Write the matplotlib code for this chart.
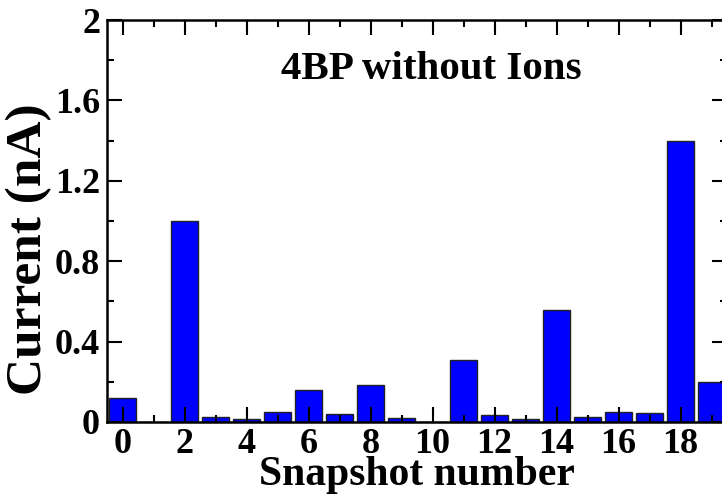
import matplotlib
matplotlib.use("Agg")
import matplotlib.pyplot as plt
from matplotlib.ticker import MultipleLocator, FixedLocator

# Current per snapshot
snapshots = list(range(20))
current_na = [0.12, 0.0, 1.0, 0.025, 0.015, 0.05, 0.16, 0.04, 0.185, 0.02,
              0.0, 0.31, 0.033, 0.015, 0.557, 0.027, 0.05, 0.045, 1.4, 0.2]
x_tick_values = [0, 2, 4, 6, 8, 10, 12, 14, 16, 18]
y_tick_values = [0, 0.4, 0.8, 1.2, 1.6, 2]
y_tick_labels = ["0", "0.4", "0.8", "1.2", "1.6", "2"]

plt.rcParams["font.family"] = ["Liberation Serif", "DejaVu Serif"]
plt.rcParams["font.weight"] = "bold"

fig = plt.figure(figsize=(7.22, 4.96), dpi=100)
ax = fig.add_axes([107 / 722, 74 / 496, 620 / 722, 402 / 496])

ax.bar(snapshots, current_na, width=0.85, color="#0000ff",
       edgecolor="#222222", linewidth=1.0)

ax.set_xlim(-0.5, 19.5)
ax.set_ylim(0, 2)

ax.xaxis.set_major_locator(FixedLocator(x_tick_values))
ax.xaxis.set_minor_locator(MultipleLocator(1))
ax.yaxis.set_major_locator(FixedLocator(y_tick_values))
ax.yaxis.set_minor_locator(MultipleLocator(0.2))
ax.set_yticklabels(y_tick_labels)

ax.tick_params(which="both", direction="in", top=True, right=True,
               width=1.5, labelsize=26, colors="black")
ax.tick_params(which="major", length=10.5)
ax.tick_params(which="minor", length=5.2)
ax.tick_params(axis="x", pad=4)
ax.tick_params(axis="y", pad=5)

for sp in ax.spines.values():
    sp.set_linewidth(1.8)

ax.set_xlabel("Snapshot number", fontsize=30, fontweight="bold", labelpad=-3)
ax.set_ylabel("Current (nA)", fontsize=37, fontweight="bold")
ax.yaxis.set_label_coords(-0.088, 0.43)

ax.text(0.523, 0.878, "4BP without Ions", transform=ax.transAxes,
        ha="center", va="center", fontsize=29.5, fontweight="bold")

fig.savefig("out.png", dpi=100)
